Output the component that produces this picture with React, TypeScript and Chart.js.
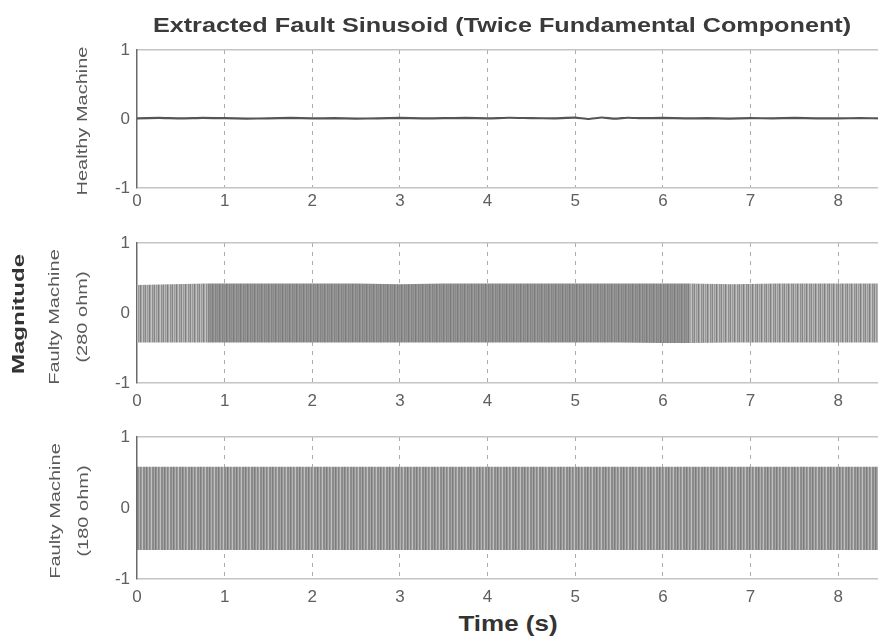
import React, { useEffect, useRef } from "react";
import { Chart, registerables } from "chart.js";
Chart.register(...registerables);

// ---------- data ----------
const timeTicks = [0, 1, 2, 3, 4, 5, 6, 7, 8];
const magnitudeTicks = [-1, 0, 1];
const timeMin = 0;
const timeMax = 8.5;

const healthyTimes = [0, 0.25, 0.5, 0.75, 1, 1.25, 1.5, 1.75, 2, 2.25, 2.5, 2.75, 3, 3.25, 3.5, 3.75, 4, 4.25, 4.5, 4.75, 5, 5.15, 5.3, 5.45, 5.6, 5.75, 6, 6.25, 6.5, 6.75, 7, 7.25, 7.5, 7.75, 8, 8.25, 8.5];
const healthyValues = [0.01, 0.015, 0.008, 0.015, 0.012, 0.005, 0.01, 0.015, 0.008, 0.012, 0.005, 0.01, 0.015, 0.008, 0.012, 0.015, 0.01, 0.018, 0.012, 0.01, 0.02, 0.0, 0.022, 0.004, 0.018, 0.012, 0.015, 0.008, 0.012, 0.006, 0.012, 0.01, 0.015, 0.008, 0.01, 0.012, 0.01];

const fault280Times = [0, 0.4, 0.8, 1.5, 2, 2.5, 3, 3.5, 4, 4.5, 5, 5.5, 6, 6.3, 6.8, 7.3, 7.8, 8.5];
const fault280Upper = [0.4, 0.41, 0.42, 0.42, 0.42, 0.42, 0.41, 0.42, 0.42, 0.42, 0.42, 0.42, 0.42, 0.42, 0.41, 0.42, 0.42, 0.42];
const fault280Lower = [-0.42, -0.42, -0.42, -0.42, -0.42, -0.42, -0.42, -0.42, -0.42, -0.42, -0.42, -0.42, -0.43, -0.43, -0.42, -0.42, -0.42, -0.42];
const fault280DenseFrom = 0.8;
const fault280DenseTo = 6.3;

const fault180Times = [0, 0.5, 1, 1.5, 2, 2.5, 3, 3.5, 4, 4.5, 5, 5.5, 6, 6.5, 7, 7.5, 8, 8.5];
const fault180Upper = [0.58, 0.58, 0.58, 0.58, 0.58, 0.58, 0.58, 0.58, 0.58, 0.58, 0.58, 0.58, 0.58, 0.58, 0.58, 0.58, 0.58, 0.58];
const fault180Lower = [-0.59, -0.59, -0.59, -0.59, -0.59, -0.59, -0.59, -0.59, -0.59, -0.59, -0.59, -0.59, -0.59, -0.59, -0.59, -0.59, -0.59, -0.59];

const titleText = "Extracted Fault Sinusoid (Twice Fundamental Component)";
const yAxisTitle = "Magnitude";
const xAxisTitle = "Time (s)";
const healthyLabel = "Healthy Machine";
const fault280Label = ["Faulty Machine", "(280 ohm)"];
const fault180Label = ["Faulty Machine", "(180 ohm)"];

// ---------- styling ----------
const FONT = "'Liberation Sans', Arial, Helvetica, sans-serif";
const CANVAS_W = 882;
const AXIS_W = 137;

function stripes(colors: string[]): CanvasPattern | string {
  const c = document.createElement("canvas");
  c.width = colors.length;
  c.height = 4;
  const g = c.getContext("2d")!;
  colors.forEach((col, i) => {
    g.fillStyle = col;
    g.fillRect(i, 0, 1, 4);
  });
  const p = g.createPattern(c, "repeat");
  return p || colors[0];
}

const pts = (xs: number[], ys: number[]) => xs.map((x, i) => ({ x, y: ys[i] }));

function baseOptions(padTop: number, axisH: number, tickPad: number): any {
  return {
    responsive: false,
    animation: false,
    devicePixelRatio: 1,
    events: [],
    layout: { padding: { top: padTop, left: 0, right: 0, bottom: 0 } },
    plugins: { legend: { display: false }, tooltip: { enabled: false }, title: { display: false } },
    elements: { point: { radius: 0 } },
    scales: {
      x: {
        type: "linear",
        min: timeMin,
        max: timeMax,
        afterBuildTicks: (s: any) => {
          s.ticks = timeTicks.map((v) => ({ value: v }));
        },
        afterFit: (s: any) => {
          s.height = axisH;
        },
        ticks: { color: "#5f5f5f", font: { family: FONT, size: 17 }, padding: tickPad, maxRotation: 0, autoSkip: false },
        grid: {
          drawTicks: false,
          color: (ctx: any) => (ctx.tick && ctx.tick.value === 0 ? "rgba(0,0,0,0)" : "#acacac"),
          lineWidth: 1,
        },
        border: { display: false, dash: [4, 5] },
      },
      y: {
        type: "linear",
        min: -1,
        max: 1,
        afterBuildTicks: (s: any) => {
          s.ticks = magnitudeTicks.map((v) => ({ value: v }));
        },
        afterFit: (s: any) => {
          s.width = AXIS_W;
        },
        ticks: { color: "#5f5f5f", font: { family: FONT, size: 17 }, padding: 7 },
        grid: {
          drawTicks: false,
          color: (ctx: any) => (ctx.tick && ctx.tick.value === 0 ? "rgba(0,0,0,0)" : "#c4c4c4"),
          lineWidth: 1.5,
        },
        border: { display: true, color: "#6a6a6a", width: 1.5 },
      },
    },
  };
}

function usePanel(ref: React.RefObject<HTMLCanvasElement>, build: () => any) {
  useEffect(() => {
    if (!ref.current) return;
    const chart = new Chart(ref.current, build());
    return () => chart.destroy();
  }, []);
}

const PANELS = [
  { top: 0, padTop: 50, plotH: 138, axisH: 26, tickPad: 3 },
  { top: 216, padTop: 27, plotH: 140, axisH: 28, tickPad: 8 },
  { top: 413, padTop: 24, plotH: 142, axisH: 30, tickPad: 8 },
];

const canvasStyle = (i: number): React.CSSProperties => ({
  position: "absolute",
  left: 0,
  top: PANELS[i].top,
});
const canvasH = (i: number) => PANELS[i].padTop + PANELS[i].plotH + PANELS[i].axisH;

function VText(props: { x: number; y: number; text: string; size: number; bold?: boolean; squeeze?: number; color?: string }) {
  const { x, y, text, size, bold, squeeze = 1, color = "#5a5a5a" } = props;
  return (
    <div
      style={{
        position: "absolute",
        left: x,
        top: y,
        transform: `translate(-50%, -50%) rotate(-90deg) scaleY(${squeeze})`,
        fontFamily: FONT,
        fontSize: size,
        fontWeight: bold ? "bold" : "normal",
        whiteSpace: "nowrap",
        lineHeight: 1,
        color,
      }}
    >
      {text}
    </div>
  );
}

function HText(props: { x: number; y: number; text: string; size: number; stretch?: number; color?: string }) {
  const { x, y, text, size, stretch = 1, color = "#3a3a3a" } = props;
  return (
    <div
      style={{
        position: "absolute",
        left: x,
        top: y,
        transform: `translate(-50%, -50%) scaleX(${stretch})`,
        fontFamily: FONT,
        fontSize: size,
        fontWeight: "bold",
        whiteSpace: "nowrap",
        lineHeight: 1,
        color,
      }}
    >
      {text}
    </div>
  );
}

export default function App() {
  const r1 = useRef<HTMLCanvasElement>(null);
  const r2 = useRef<HTMLCanvasElement>(null);
  const r3 = useRef<HTMLCanvasElement>(null);

  usePanel(r1, () => {
    const p = PANELS[0];
    return {
      type: "line",
      data: {
        datasets: [
          {
            data: pts(healthyTimes, healthyValues),
            borderColor: "#555555",
            borderWidth: 2.2,
            tension: 0.15,
            fill: false,
          },
        ],
      },
      options: baseOptions(p.padTop, p.axisH, p.tickPad),
    };
  });

  usePanel(r2, () => {
    const p = PANELS[1];
    const dense = stripes(["#8a8a8a", "#969696", "#7c7c7c", "#8e8e8e", "#9c9c9c", "#828282", "#939393"]);
    const sparse = stripes(["#a8a8a8", "#868686", "#bcbcbc", "#9a9a9a", "#b2b2b2", "#7e7e7e", "#a6a6a6", "#c2c2c2", "#909090"]);
    return {
      type: "line",
      data: {
        datasets: [
          {
            data: pts(fault280Times, fault280Upper),
            borderColor: "rgba(0,0,0,0)",
            borderWidth: 0,
            fill: "+1",
            backgroundColor: dense,
            segment: {
              backgroundColor: (ctx: any) => {
                const x = ctx.p0.parsed.x;
                return x >= fault280DenseFrom && x < fault280DenseTo ? dense : sparse;
              },
            },
          },
          {
            data: pts(fault280Times, fault280Lower),
            borderColor: "rgba(0,0,0,0)",
            borderWidth: 0,
            fill: false,
          },
        ],
      },
      options: baseOptions(p.padTop, p.axisH, p.tickPad),
    };
  });

  usePanel(r3, () => {
    const p = PANELS[2];
    const band = stripes(["#8a8a8a", "#a8a8a8", "#7c7c7c", "#959595", "#b2b2b2", "#868686", "#9a9a9a", "#c0c0c0", "#8c8c8c"]);
    return {
      type: "line",
      data: {
        datasets: [
          {
            data: pts(fault180Times, fault180Upper),
            borderColor: "rgba(0,0,0,0)",
            borderWidth: 0,
            fill: "+1",
            backgroundColor: band,
          },
          {
            data: pts(fault180Times, fault180Lower),
            borderColor: "rgba(0,0,0,0)",
            borderWidth: 0,
            fill: false,
          },
        ],
      },
      options: baseOptions(p.padTop, p.axisH, p.tickPad),
    };
  });

  return (
    <div
      style={{
        position: "fixed",
        left: 0,
        top: 0,
        width: 878,
        height: 643,
        overflow: "hidden",
        background: "#ffffff",
      }}
    >
      <canvas ref={r1} width={CANVAS_W} height={canvasH(0)} style={canvasStyle(0)} />
      <canvas ref={r2} width={CANVAS_W} height={canvasH(1)} style={canvasStyle(1)} />
      <canvas ref={r3} width={CANVAS_W} height={canvasH(2)} style={canvasStyle(2)} />

      <HText x={502} y={24} text={titleText} size={21} stretch={1.2} color="#3a3a3a" />
      <HText x={508} y={624} text={xAxisTitle} size={22} stretch={1.18} color="#333333" />

      <VText x={19} y={314} text={yAxisTitle} size={24} bold squeeze={0.66} color="#333333" />
      <VText x={82} y={121} text={healthyLabel} size={20} squeeze={0.75} />
      <VText x={54} y={317} text={fault280Label[0]} size={20} squeeze={0.75} />
      <VText x={82} y={317} text={fault280Label[1]} size={20} squeeze={0.75} />
      <VText x={55} y={511} text={fault180Label[0]} size={20} squeeze={0.75} />
      <VText x={83} y={511} text={fault180Label[1]} size={20} squeeze={0.75} />
    </div>
  );
}
